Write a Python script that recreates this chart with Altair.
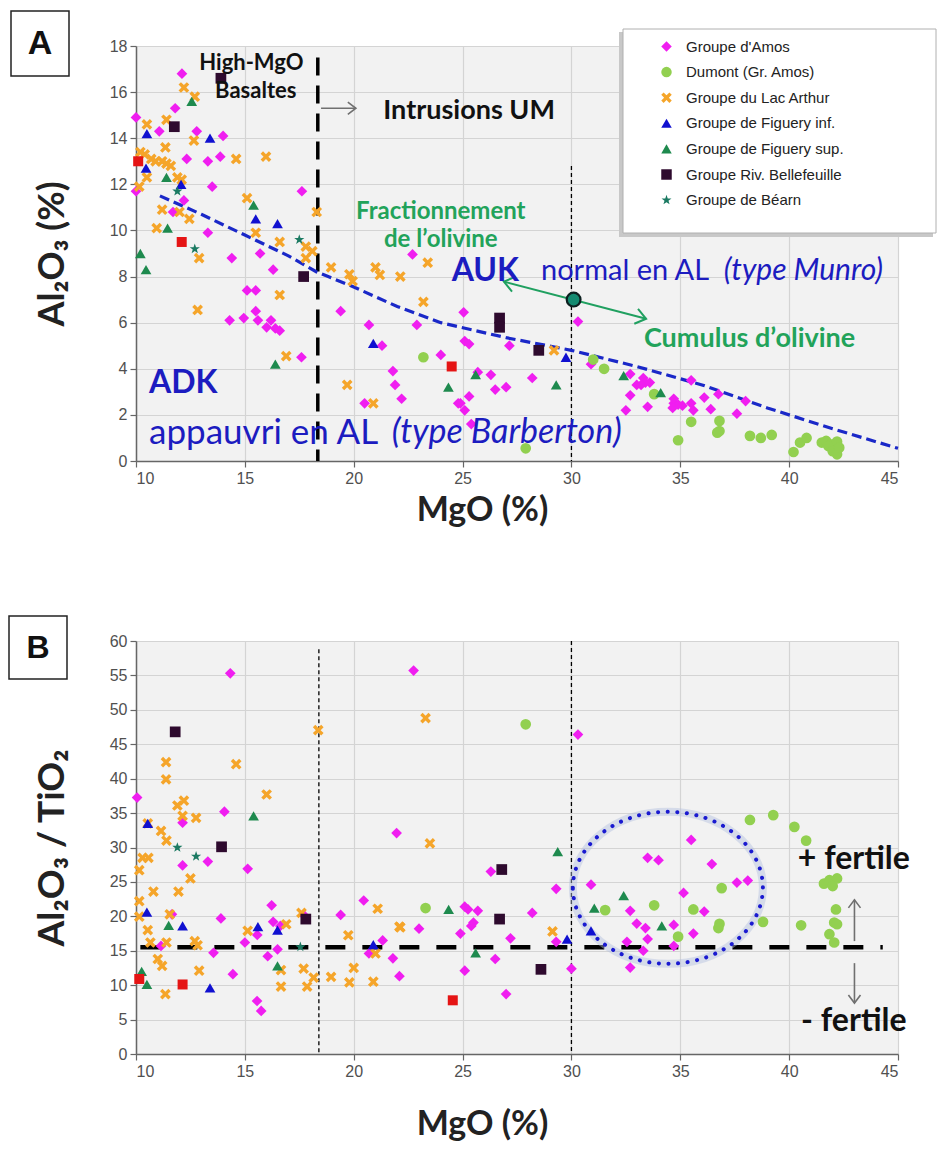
import altair as alt
import pandas as pd

# ---------------- groups / styles ----------------
GROUPS = ["Groupe d'Amos", "Dumont (Gr. Amos)", "Groupe du Lac Arthur",
          "Groupe de Figuery inf.", "Groupe de Figuery sup.",
          "Groupe Riv. Bellefeuille", "Groupe de Béarn"]
COLORS = ["#f01ef0", "#92d050", "#f5a52a", "#1010d0", "#1e8a4e", "#2e0a2e", "#1b7a62"]
X_PATH = "M-1,-0.55L-0.55,-1L0,-0.45L0.55,-1L1,-0.55L0.45,0L1,0.55L0.55,1L0,0.45L-0.55,1L-1,0.55L-0.45,0Z"
STAR_PATH = ("M0,-1L0.235,-0.324L0.951,-0.309L0.38,0.124L0.588,0.809L0,0.4"
             "L-0.588,0.809L-0.38,0.124L-0.951,-0.309L-0.235,-0.324Z")
SHAPES = ["diamond", "circle", X_PATH, "triangle-up", "triangle-up", "square", STAR_PATH]
CHEVRON = "M-1,-0.75L0,0L-1,0.75"
ELLIPSE = "M-1,0A1,0.8 0 1,1 1,0A1,0.8 0 1,1 -1,0Z"

# ---------------- panel A : MgO vs Al2O3 ----------------
AMOS_A = [(12.11, 16.8), (10.0, 14.9), (11.8, 15.3), (11.07, 14.3), (12.79, 14.3), (14.0, 14.1),
          (12.33, 13.1), (13.3, 13.0), (13.87, 13.2), (13.5, 11.9), (10.0, 11.7), (17.62, 11.7),
          (12.2, 11.3), (11.7, 10.8), (13.3, 9.9), (14.4, 8.8), (15.7, 9.0), (16.3, 8.3),
          (15.1, 7.4), (15.5, 7.4), (15.5, 6.5), (14.3, 6.1), (14.95, 6.2), (15.6, 6.1),
          (16.2, 6.1), (16.0, 5.8), (16.6, 5.65), (16.4, 5.75), (17.6, 4.5), (19.4, 6.5),
          (20.7, 5.9), (21.3, 5.0), (22.9, 5.9), (24.0, 4.6), (21.8, 3.9), (21.9, 3.3),
          (22.2, 2.7), (20.5, 2.5), (24.8, 2.5), (22.7, 8.96), (25.05, 6.45), (25.1, 5.2),
          (25.3, 5.07), (27.15, 5.0), (30.3, 6.05), (25.7, 3.85), (26.3, 3.74), (26.5, 3.1),
          (27.0, 3.2), (28.2, 3.6), (24.9, 2.5), (25.3, 2.8), (25.1, 2.2), (25.4, 1.6),
          (30.9, 4.2), (32.7, 3.77), (33.0, 3.3), (33.3, 3.6), (33.4, 3.4), (33.6, 3.4),
          (33.2, 3.3), (32.7, 2.85), (32.5, 2.2), (33.5, 2.35), (34.7, 2.5), (34.9, 2.45),
          (35.1, 2.4), (34.65, 2.3), (34.7, 2.7), (35.5, 2.5), (35.6, 2.2), (35.5, 3.5),
          (36.1, 2.75), (36.4, 2.25), (36.75, 2.9), (37.6, 2.05), (38.0, 2.6)]
DUMONT_A = [(23.2, 4.5), (27.9, 0.55), (31.0, 4.4), (31.5, 4.0), (33.8, 2.9), (35.5, 1.7),
            (34.9, 0.9), (36.8, 1.74), (36.8, 1.3), (36.7, 1.23), (38.2, 1.09), (38.7, 1.0),
            (39.2, 1.13), (40.2, 0.39), (40.5, 0.8), (40.8, 1.0), (41.5, 0.8), (41.7, 0.87),
            (41.9, 0.72), (42.2, 0.84), (41.8, 0.65), (42.0, 0.43), (42.2, 0.29), (42.3, 0.58)]
ARTHUR_A = [(12.2, 16.2), (12.7, 15.8), (10.5, 14.6), (11.4, 14.8), (12.66, 13.9), (11.35, 13.6),
            (10.2, 13.4), (10.4, 13.3), (10.7, 13.1), (10.9, 13.0), (11.2, 13.0), (11.4, 12.9),
            (11.6, 12.8), (14.6, 13.1), (15.97, 13.2), (11.9, 12.3), (12.1, 12.2), (10.15, 11.9),
            (10.5, 12.3), (11.2, 10.9), (12.0, 10.8), (12.45, 10.5), (10.95, 10.1), (15.1, 11.4),
            (15.5, 9.9), (16.6, 9.5), (12.9, 8.8), (17.8, 9.3), (18.1, 9.1), (17.8, 8.8),
            (16.6, 7.2), (18.3, 10.8), (12.83, 6.55), (16.9, 4.55), (18.96, 8.4), (19.8, 8.1),
            (19.95, 7.8), (21.0, 8.4), (21.2, 8.07), (22.14, 8.0), (23.4, 8.6), (23.2, 6.9),
            (19.7, 3.3), (20.9, 2.5), (29.2, 4.8)]
FIGINF_A = [(10.5, 14.2), (13.4, 14.0), (10.46, 12.7), (12.07, 12.0), (15.5, 10.5), (16.5, 10.3),
            (20.9, 5.1), (29.75, 4.5)]
FIGSUP_A = [(12.56, 15.6), (11.4, 12.3), (15.4, 11.1), (11.45, 10.1), (10.2, 9.0), (10.46, 8.3),
            (16.4, 4.2), (24.35, 3.2), (25.6, 3.75), (29.3, 3.3), (32.4, 3.7), (34.1, 2.97)]
BELLE_A = [(13.9, 16.6), (11.76, 14.5), (17.7, 8.0), (26.7, 6.2), (26.7, 5.8), (28.5, 4.8)]
BEARN_A = [(11.9, 11.7), (12.7, 9.2), (17.5, 9.6)]
RED_A = [(10.1, 13.0), (12.1, 9.5), (24.5, 4.1)]

TREND_X = [11.1, 13, 15, 17, 18.3, 20, 22, 24, 27, 30, 33, 36, 39, 42, 45]
TREND_Y = [11.5, 10.7, 9.8, 8.9, 8.2, 7.55, 6.7, 6.0, 5.35, 4.8, 4.1, 3.3, 2.3, 1.4, 0.55]

# ---------------- panel B : MgO vs Al2O3/TiO2 ----------------
AMOS_B = [(14.33, 55.3), (10.05, 37.25), (14.06, 35.2), (12.14, 33.6), (21.97, 32.1), (12.14, 27.4),
          (13.3, 27.95), (15.13, 26.9), (20.46, 22.3), (16.23, 21.6), (11.65, 20.3), (13.9, 19.7),
          (19.4, 20.2), (16.3, 19.2), (16.63, 18.6), (15.57, 17.3), (21.33, 16.5), (20.7, 14.6),
          (21.8, 13.9), (15.0, 16.2), (11.15, 15.7), (13.56, 14.7), (16.05, 14.2), (16.5, 15.2),
          (14.45, 11.6), (22.1, 11.3), (15.56, 7.7), (15.75, 6.25), (17.7, 20.2),
          (22.75, 55.7), (30.3, 46.4), (26.3, 26.5), (29.3, 24.0), (30.9, 24.6), (25.1, 21.4),
          (25.25, 21.0), (25.7, 20.8), (28.2, 20.5), (25.5, 19.1), (25.4, 18.6), (23.0, 18.2),
          (24.9, 17.5), (27.2, 16.8), (29.3, 16.3), (26.5, 13.8), (25.1, 12.1), (30.0, 12.4),
          (27.0, 8.7), (35.5, 31.1), (33.5, 28.5), (34.0, 28.15), (36.45, 27.6), (37.6, 24.9),
          (38.1, 25.2), (35.15, 23.4), (36.1, 20.7), (32.7, 20.8), (33.0, 18.95), (33.4, 18.3),
          (34.7, 18.75), (35.6, 17.5), (33.5, 16.7), (32.55, 16.3), (33.3, 15.0), (34.7, 15.7),
          (32.7, 12.55)]
DUMONT_B = [(27.9, 47.9), (23.3, 21.2), (31.55, 20.9), (38.2, 34.0), (39.27, 34.7), (40.24, 33.0),
            (40.78, 31.0), (36.9, 24.1), (41.6, 24.75), (41.85, 25.25), (42.2, 25.5), (42.0, 24.4),
            (33.8, 21.6), (35.6, 21.0), (42.15, 21.0), (38.8, 19.2), (40.55, 18.7), (42.07, 19.1),
            (42.2, 18.85), (36.8, 18.9), (36.75, 18.3), (34.9, 17.05), (41.85, 17.4), (42.07, 16.2)]
ARTHUR_B = [(11.38, 42.4), (11.38, 39.9), (14.6, 42.1), (18.37, 47.05), (16.0, 37.7), (11.9, 36.1),
            (12.2, 36.8), (12.14, 34.6), (12.76, 34.3), (10.54, 33.5), (11.15, 32.4), (11.4, 31.0),
            (10.3, 28.5), (10.57, 28.5), (10.15, 26.7), (12.5, 25.5), (10.8, 23.6), (11.95, 23.6),
            (10.15, 22.2), (21.1, 21.1), (10.15, 19.95), (11.55, 20.3), (17.6, 20.5), (16.9, 18.85),
            (10.54, 18.0), (15.13, 17.9), (19.75, 17.25), (22.1, 18.5), (21.0, 14.6), (10.66, 16.2),
            (11.4, 16.2), (12.7, 16.4), (12.83, 15.8), (11.0, 13.8), (11.2, 12.8), (16.66, 12.2),
            (17.7, 12.4), (12.9, 12.1), (16.66, 9.8), (17.86, 9.8), (18.16, 11.1), (18.96, 11.2),
            (19.8, 10.4), (20.0, 12.5), (20.9, 10.5), (11.35, 8.7), (23.3, 48.8), (23.5, 30.6),
            (22.14, 18.4), (29.13, 17.8)]
FIGINF_B = [(10.54, 33.5), (10.5, 20.6), (12.14, 18.6), (15.6, 18.5), (16.5, 18.0), (13.4, 9.6),
            (20.9, 15.9), (29.8, 16.7), (30.9, 17.9)]
FIGSUP_B = [(15.4, 34.6), (11.5, 18.7), (16.5, 12.8), (10.26, 12.0), (10.5, 10.1), (29.37, 29.4),
            (24.36, 21.0), (25.6, 14.7), (31.05, 21.2), (32.4, 23.0), (34.15, 18.6)]
BELLE_B = [(11.8, 46.8), (13.93, 30.1), (17.8, 19.6), (26.8, 26.8), (26.7, 19.6), (28.6, 12.3)]
BEARN_B = [(11.9, 30.0), (12.76, 28.7), (17.55, 15.55)]
RED_B = [(10.15, 10.9), (12.14, 10.1), (24.55, 7.8)]

# ---------------- annotation anchors (data units) ----------------
A_VLINE_THICK = {"x": [18.35], "y": [17.5], "y2": [0]}
A_VLINE_THIN = {"x": [30.0], "y": [12.8], "y2": [0]}
A_GREEN_ARROW = {"x": [26.9], "y": [7.78], "x2": [33.43], "y2": [6.17]}
A_GREEN_HEADS = {"x": [26.9, 33.43], "y": [7.78, 6.17], "a": [194, 14]}
A_OLIVINE_PT = {"x": [30.1], "y": [7.0]}
A_GRAY_ARROW = {"x": [18.5], "y": [15.3], "x2": [20.1], "y2": [15.3]}
A_GRAY_HEAD = {"x": [20.1], "y": [15.3], "a": [0]}

B_VLINES = {"x": [18.4, 30.0], "y": [58.8, 60], "y2": [0, 0]}
B_HLINE = {"x": [10.2], "x2": [44.3], "y": [15.5]}
B_ELLIPSE = {"x": [34.43], "y": [24.15]}
B_ARROWS = {"x": [43.0, 43.0], "y": [16.4, 13.2], "y2": [22.4, 7.4]}
B_HEADS = {"x": [43.0, 43.0], "y": [22.4, 7.4], "a": [270, 90]}

BLUE = "#1c1cc0"
GREEN_TXT = "#22a35a"
TFONT = "Lato, Open Sans, sans-serif"
NFONT = "Liberation Sans Narrow, Liberation Sans, Arial, sans-serif"


def pts_df(groups_pts):
    rows = []
    for g, pts in zip(GROUPS, groups_pts):
        for x, y in pts:
            rows.append({"x": x, "y": y, "group": g})
    return pd.DataFrame(rows)


def xy_df(pts):
    return pd.DataFrame({"x": [p[0] for p in pts], "y": [p[1] for p in pts]})


def make_axes(title_pad_x, title_pad_y, yvals, ytitle_size):
    ax = alt.Axis(values=list(range(10, 46, 5)), tickSize=6, labelPadding=3,
                  titlePadding=title_pad_x, titleX=346, titleFontSize=34)
    ay = alt.Axis(values=yvals, tickSize=6, labelPadding=3, titlePadding=title_pad_y,
                  titleFontSize=ytitle_size)
    return ax, ay


def panel(groups_pts, red_pts, ydom, yvals, ytitle, pad_x, pad_y, ysize, legend):
    ax, ay = make_axes(pad_x, pad_y, yvals, ysize)
    X = alt.X("x:Q", scale=alt.Scale(domain=[10, 45], nice=False, zero=False), axis=ax, title="MgO (%)")
    Y = alt.Y("y:Q", scale=alt.Scale(domain=ydom, nice=False, zero=False), axis=ay, title=ytitle)
    color = alt.Color("group:N", scale=alt.Scale(domain=GROUPS, range=COLORS), legend=legend)
    shape = alt.Shape("group:N", scale=alt.Scale(domain=GROUPS, range=SHAPES), legend=legend)
    scatter = alt.Chart(pts_df(groups_pts)).mark_point(filled=True, opacity=1, size=115).encode(
        x=X, y=Y, color=color, shape=shape)
    red = alt.Chart(xy_df(red_pts)).mark_point(filled=True, opacity=1, size=100, shape="square",
                                               color="#e51414").encode(x=X, y=Y)
    return X, Y, scatter, red


def texts(rows, X, Y, **kw):
    df = pd.DataFrame(rows, columns=["t", "x", "y"])
    return alt.Chart(df).mark_text(baseline="middle", **kw).encode(x=X, y=Y, text="t:N")


legend = alt.Legend(orient="none", legendX=523, legendY=-7, title=None,
                    labelFont="Liberation Sans, Arial, sans-serif", labelFontSize=15,
                    labelColor="#222222", rowPadding=9.6, symbolSize=110, padding=0,
                    labelOffset=12, symbolStrokeWidth=0, labelLimit=300)

# ======================= TOP PANEL =======================
XA, YA, scatA, redA = panel([AMOS_A, DUMONT_A, ARTHUR_A, FIGINF_A, FIGSUP_A, BELLE_A, BEARN_A],
                            RED_A, [0, 18], list(range(0, 19, 2)), "Al₂O₃    (%)", 7, 38, 36, legend)

thick = alt.Chart(pd.DataFrame(A_VLINE_THICK)).mark_rule(
    color="black", strokeWidth=3.5, strokeDash=[18, 10]).encode(x=XA, y=YA, y2="y2:Q")
thin = alt.Chart(pd.DataFrame(A_VLINE_THIN)).mark_rule(
    color="black", strokeWidth=1.3, strokeDash=[4, 3]).encode(x=XA, y=YA, y2="y2:Q")
trend = alt.Chart(pd.DataFrame({"x": TREND_X, "y": TREND_Y})).mark_line(
    color="#1a28c8", strokeWidth=3.2, strokeDash=[10, 5]).encode(x=XA, y=YA)
garrow = alt.Chart(pd.DataFrame(A_GREEN_ARROW)).mark_rule(
    color="#20a060", strokeWidth=2).encode(x=XA, y=YA, x2="x2:Q", y2="y2:Q")
gheads = alt.Chart(pd.DataFrame(A_GREEN_HEADS)).mark_point(
    shape=CHEVRON, filled=False, size=420, strokeWidth=2, color="#20a060", opacity=1).encode(
    x=XA, y=YA, angle=alt.Angle("a:Q", scale=None))
olpt = alt.Chart(pd.DataFrame(A_OLIVINE_PT)).mark_point(
    shape="circle", filled=True, size=190, color="#138a70", stroke="#0d2020", strokeWidth=2.2,
    opacity=1).encode(x=XA, y=YA)
grarrow = alt.Chart(pd.DataFrame(A_GRAY_ARROW)).mark_rule(
    color="#707070", strokeWidth=1.6).encode(x=XA, y=YA, x2="x2:Q", y2="y2:Q")
grhead = alt.Chart(pd.DataFrame(A_GRAY_HEAD)).mark_point(
    shape=CHEVRON, filled=False, size=260, strokeWidth=1.6, color="#707070", opacity=1).encode(
    x=XA, y=YA, angle=alt.Angle("a:Q", scale=None))

t_black = texts([("High-MgO", 15.3, 17.25), ("Basaltes", 15.5, 16.05)], XA, YA, align="center",
                font=TFONT, fontWeight="bold", fontSize=22, color="#111111")
t_intr = texts([("Intrusions UM", 25.3, 15.2)], XA, YA, align="center", font=TFONT,
               fontWeight="bold", fontSize=27, color="#111111")
t_frac = texts([("Fractionnement", 24.0, 10.8), ("de l’olivine", 24.0, 9.6)], XA, YA,
               align="center", font=TFONT, fontWeight="bold", fontSize=24, color=GREEN_TXT)
t_cum = texts([("Cumulus d’olivine", 33.33, 5.3)], XA, YA, align="left", font=TFONT,
              fontWeight="bold", fontSize=27, color=GREEN_TXT)
t_auk = texts([("AUK", 24.5, 8.26), ("ADK", 10.6, 3.4)], XA, YA, align="left", font=TFONT,
              fontWeight="bold", fontSize=32, color=BLUE)
t_norm = texts([("normal en AL", 28.6, 8.26)], XA, YA,
               align="left", font=TFONT, fontSize=29, color=BLUE)
t_appa = texts([("appauvri en AL", 10.6, 1.22)], XA, YA,
               align="left", font=TFONT, fontSize=35, color=BLUE)
t_munro = texts([("(type Munro)", 37.0, 8.26)], XA, YA,
                align="left", font=TFONT, fontStyle="italic", fontSize=30, color=BLUE)
t_barb = texts([("(type Barberton)", 21.75, 1.22)], XA, YA,
               align="left", font=TFONT, fontStyle="italic", fontSize=34, color=BLUE)

one = pd.DataFrame({"t": ["A"]})
leg_shadow = alt.Chart(one).mark_rect(color="#c8c8c8").encode(
    x=alt.value(483), x2=alt.value(797), y=alt.value(-14), y2=alt.value(191))
leg_box = alt.Chart(one).mark_rect(fill="white", stroke="#b0b0b0", strokeWidth=1).encode(
    x=alt.value(487), x2=alt.value(800), y=alt.value(-17), y2=alt.value(187))
boxA = alt.Chart(one).mark_rect(fill="white", stroke="#222222", strokeWidth=1.5).encode(
    x=alt.value(-125), x2=alt.value(-67), y=alt.value(-35), y2=alt.value(30))
letA = alt.Chart(one).mark_text(font="Liberation Sans, Arial", fontWeight="bold", fontSize=34,
                                 baseline="middle", align="center", color="#111111").encode(
    x=alt.value(-96), y=alt.value(-2), text="t:N")

top = alt.layer(thick, thin, trend, scatA, redA, garrow, gheads, olpt, grarrow, grhead,
                t_black, t_intr, t_frac, t_cum, t_auk, t_norm, t_appa, t_munro, t_barb,
                leg_shadow, leg_box, boxA, letA).properties(width=762, height=415)

# ======================= BOTTOM PANEL =======================
XB, YB, scatB, redB = panel([AMOS_B, DUMONT_B, ARTHUR_B, FIGINF_B, FIGSUP_B, BELLE_B, BEARN_B],
                            RED_B, [0, 60], list(range(0, 61, 5)), "Al₂O₃  / TiO₂", 28, 38, 37, None)

vlines = alt.Chart(pd.DataFrame(B_VLINES)).mark_rule(
    color="black", strokeWidth=1.3, strokeDash=[4, 3]).encode(x=XB, y=YB, y2="y2:Q")
hline = alt.Chart(pd.DataFrame(B_HLINE)).mark_rule(
    color="black", strokeWidth=4.5, strokeDash=[20, 17]).encode(x=XB, x2="x2:Q", y=YB)
glow = alt.Chart(pd.DataFrame(B_ELLIPSE)).mark_point(
    shape=ELLIPSE, filled=False, size=36100, strokeWidth=8, color="#b4c0e0", opacity=0.45).encode(
    x=XB, y=YB)
ell = alt.Chart(pd.DataFrame(B_ELLIPSE)).mark_point(
    shape=ELLIPSE, filled=False, size=36100, strokeWidth=4, color="#1a1ad0", opacity=1,
    strokeDash=[0.1, 9.5], strokeCap="round").encode(x=XB, y=YB)
barrows = alt.Chart(pd.DataFrame(B_ARROWS)).mark_rule(
    color="#707070", strokeWidth=1.6).encode(x=XB, y=YB, y2="y2:Q")
bheads = alt.Chart(pd.DataFrame(B_HEADS)).mark_point(
    shape=CHEVRON, filled=False, size=260, strokeWidth=1.6, color="#707070", opacity=1).encode(
    x=XB, y=YB, angle=alt.Angle("a:Q", scale=None))
t_fert = texts([("+ fertile", 40.4, 28.3), ("- fertile", 40.55, 4.8)], XB, YB, align="left",
               font=TFONT, fontWeight="bold", fontSize=32, color="#111111")

oneB = pd.DataFrame({"t": ["B"]})
boxB = alt.Chart(oneB).mark_rect(fill="white", stroke="#222222", strokeWidth=1.5).encode(
    x=alt.value(-127), x2=alt.value(-69), y=alt.value(-25), y2=alt.value(38))
letB = alt.Chart(oneB).mark_text(font="Liberation Sans, Arial", fontWeight="bold", fontSize=32,
                                  baseline="middle", align="center", color="#111111").encode(
    x=alt.value(-98), y=alt.value(7), text="t:N")

bottom = alt.layer(vlines, hline, glow, ell, scatB, redB, barrows, bheads, t_fert,
                   boxB, letB).properties(width=762, height=413)

chart = alt.vconcat(top, bottom, spacing=180, bounds="flush").resolve_scale(
    color="independent", shape="independent"
).properties(
    padding={"left": 8, "top": 10, "right": 2, "bottom": 5}
).configure_view(
    fill="#f2f2f2", stroke=None
).configure_axis(
    gridColor="#d4d4d4", gridWidth=1.2, domainColor="#666666", domainWidth=1.5,
    tickColor="#666666", tickWidth=1.2, labelFont=NFONT, labelFontSize=16, labelColor="#505050",
    titleFont=TFONT, titleFontSize=32, titleFontWeight="bold", titleColor="#222222"
)

chart.save("out.html", embed_options={"renderer": "svg", "actions": False})
